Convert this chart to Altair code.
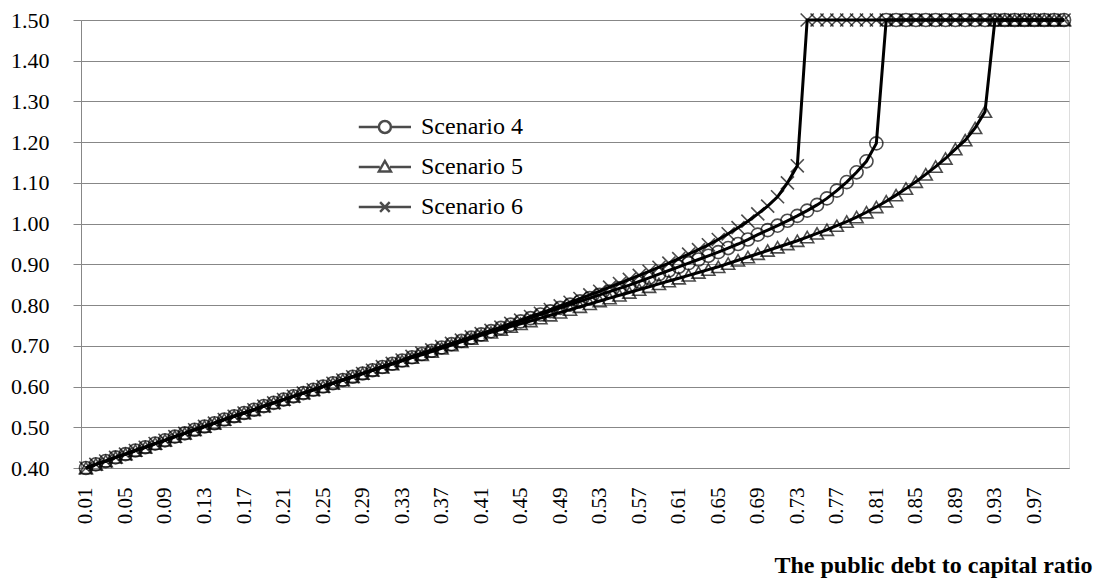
import altair as alt
import pandas as pd

# ---------------- data ----------------
CATEGORIES = [f"{i / 100:.2f}" for i in range(1, 101)]
X_LABELS = CATEGORIES[::4]
Y_TICKS = [0.40, 0.50, 0.60, 0.70, 0.80, 0.90, 1.00, 1.10, 1.20, 1.30, 1.40, 1.50]
SERIES = ["Scenario 4", "Scenario 5", "Scenario 6"]

COMMON_LOW = [0.400, 0.409, 0.417, 0.426, 0.434, 0.443, 0.451, 0.460, 0.468, 0.477,
              0.485, 0.494, 0.502, 0.510, 0.519, 0.527, 0.535, 0.543, 0.552, 0.560,
              0.568, 0.576, 0.584, 0.592, 0.600, 0.608, 0.616, 0.624, 0.632, 0.640]

SCENARIO_4 = COMMON_LOW + [
    0.648, 0.656, 0.664, 0.672, 0.680, 0.688, 0.696, 0.704, 0.712, 0.720,
    0.728, 0.736, 0.744, 0.752, 0.760, 0.768, 0.777, 0.785, 0.793, 0.801,
    0.809, 0.817, 0.825, 0.833, 0.841, 0.849, 0.858, 0.867, 0.876, 0.885,
    0.894, 0.903, 0.912, 0.921, 0.930, 0.940, 0.950, 0.961, 0.973, 0.984,
    0.995, 1.007, 1.019, 1.032, 1.046, 1.062, 1.081, 1.102, 1.126, 1.153,
    1.197, 1.50, 1.50, 1.50, 1.50, 1.50, 1.50, 1.50, 1.50, 1.50,
    1.50, 1.50, 1.50, 1.50, 1.50, 1.50, 1.50, 1.50, 1.50, 1.50]

SCENARIO_5 = COMMON_LOW + [
    0.647, 0.655, 0.663, 0.671, 0.678, 0.686, 0.694, 0.702, 0.710, 0.718,
    0.726, 0.733, 0.740, 0.747, 0.754, 0.761, 0.768, 0.775, 0.782, 0.789,
    0.796, 0.803, 0.810, 0.817, 0.824, 0.831, 0.838, 0.845, 0.852, 0.859,
    0.866, 0.873, 0.880, 0.887, 0.894, 0.902, 0.910, 0.918, 0.926, 0.934,
    0.942, 0.950, 0.958, 0.967, 0.976, 0.985, 0.995, 1.005, 1.016, 1.028,
    1.041, 1.055, 1.070, 1.086, 1.103, 1.121, 1.140, 1.160, 1.183, 1.205,
    1.235, 1.275, 1.50, 1.50, 1.50, 1.50, 1.50, 1.50, 1.50, 1.50]

SCENARIO_6 = COMMON_LOW + [
    0.649, 0.657, 0.665, 0.674, 0.682, 0.690, 0.698, 0.706, 0.714, 0.722,
    0.730, 0.738, 0.746, 0.755, 0.763, 0.772, 0.780, 0.789, 0.798, 0.807,
    0.816, 0.825, 0.834, 0.844, 0.853, 0.863, 0.873, 0.883, 0.893, 0.903,
    0.914, 0.925, 0.936, 0.948, 0.961, 0.975, 0.990, 1.006, 1.024, 1.043,
    1.066, 1.100, 1.142, 1.50, 1.50, 1.50, 1.50, 1.50, 1.50, 1.50,
    1.50, 1.50, 1.50, 1.50, 1.50, 1.50, 1.50, 1.50, 1.50, 1.50,
    1.50, 1.50, 1.50, 1.50, 1.50, 1.50, 1.50, 1.50, 1.50, 1.50]

VALUES = {"Scenario 4": SCENARIO_4, "Scenario 5": SCENARIO_5, "Scenario 6": SCENARIO_6}

rows = []
for s in SERIES:
    for i, (c, v) in enumerate(zip(CATEGORIES, VALUES[s])):
        rows.append({"series": s, "ratio": c, "idx": i, "value": v})
df = pd.DataFrame(rows)

# ---------------- styling ----------------
FONT = "Liberation Serif"
GRID = "#878787"
X_PATH = "M-1,-1L1,1M-1,1L1,-1"
LEG_4 = "M-7.7,0L-4.35,0M-2.35,0L1,0M-2.35,0A1,1 0 1,1 -4.35,0A1,1 0 1,1 -2.35,0"
LEG_5 = "M-7.7,0L-4.2,0M-2.5,0L1,0M-3.35,-1L-2.35,0.75L-4.35,0.75Z"
LEG_6 = "M-7.7,0L1,0M-4.15,-0.8L-2.55,0.8M-4.15,0.8L-2.55,-0.8"

x_enc = alt.X(
    "ratio:O",
    sort=CATEGORIES,
    scale=alt.Scale(domain=CATEGORIES, type="point", padding=0.5),
    axis=alt.Axis(
        values=X_LABELS, labelAngle=270, ticks=False, tickSize=0, labelPadding=19,
        labelFontSize=21, labelFont=FONT, labelColor="black", domainColor=GRID,
        grid=False, title="The public debt to capital ratio",
        titleFont=FONT, titleFontSize=24, titleFontWeight="bold", titleColor="black",
        titleAlign="right", titleAnchor="end", titleX=1011, titleY=104,
        titleBaseline="alphabetic",
    ),
)
y_enc = alt.Y(
    "value:Q",
    scale=alt.Scale(domain=[0.4, 1.5], nice=False, zero=False),
    axis=alt.Axis(
        values=Y_TICKS, format=".2f", title=None, tickSize=8, tickColor=GRID,
        domainColor=GRID, gridColor=GRID, gridWidth=1, labelPadding=24,
        labelFontSize=22, labelFont=FONT, labelColor="black",
    ),
)

base = alt.Chart(df)

lines = base.mark_line(color="black", strokeWidth=3).encode(
    x=x_enc, y=y_enc, detail="series:N", order="idx:Q"
)

points = base.mark_point(color="black", filled=False, size=170, strokeWidth=1.6).encode(
    x=x_enc, y=y_enc,
    shape=alt.Shape("series:N", scale=alt.Scale(domain=SERIES, range=["circle", "triangle-up", X_PATH]),
                    legend=None),
)

legend_layer = base.transform_filter("false").mark_point(
    color="black", filled=False, size=144, strokeWidth=2.5
).encode(
    x=x_enc, y=y_enc,
    shape=alt.Shape(
        "series:N",
        scale=alt.Scale(domain=SERIES, range=[LEG_4, LEG_5, LEG_6]),
        legend=alt.Legend(
            title=None, orient="none", legendX=312, legendY=95, padding=0,
            labelFont=FONT, labelFontSize=24, labelColor="black", labelOffset=4,
            rowPadding=16, symbolSize=144, symbolStrokeColor="black",
            symbolStrokeWidth=2.5, symbolFillColor="transparent",
        ),
    ),
)

chart = (
    alt.layer(lines, points, legend_layer)
    .resolve_scale(shape="independent")
    .properties(
        width=988, height=448,
        autosize=alt.AutoSizeParams(type="none"),
        padding={"left": 73, "top": 12, "right": 31, "bottom": 110},
        background="white",
    )
    .configure_view(stroke=None)
    .configure_axis(labelFont=FONT, titleFont=FONT)
    .configure_legend(labelFont=FONT)
    .configure(font=FONT)
)

chart.save("out.html", embed_options={"renderer": "svg", "actions": False})
